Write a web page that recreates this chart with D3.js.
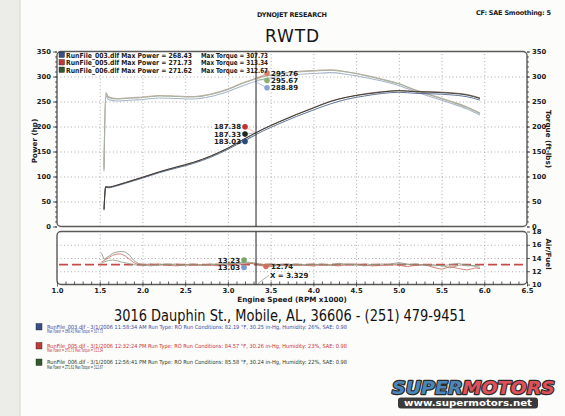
<!DOCTYPE html>
<html>
<head>
<meta charset="utf-8">
<script src="https://cdn.jsdelivr.net/npm/d3@7"></script>
<style>
html, body { margin: 0; padding: 0; background: #ecece9; }
svg { display: block; font-family: "DejaVu Sans", Verdana, sans-serif; }
</style>
</head>
<body>
<svg id="chart" width="565" height="416"></svg>
<script>
// run info
var runNames = ["RunFile_003.dlf", "RunFile_005.dlf", "RunFile_006.dlf"];
var maxPower = ["268.43", "271.73", "271.62"];
var maxTorque = ["307.73", "313.34", "312.67"];
var runDates = ["3/1/2006 11:58:34 AM", "3/1/2006 12:32:24 PM", "3/1/2006 12:56:41 PM"];
var runTemps = ["82.19", "84.57", "85.58"];
var runBaro = ["30.25", "30.26", "30.24"];
var runHumidity = ["26%", "23%", "22%"];
var runSAE = ["0.98", "0.98", "0.98"];

// power / torque curves
var dynoRpm = [1.55, 1.57, 1.6, 1.7, 1.8, 1.9, 2.0, 2.2, 2.4, 2.6, 2.8, 3.0, 3.2, 3.4,
  3.6, 3.8, 4.0, 4.2, 4.4, 4.6, 4.8, 5.0, 5.2, 5.4, 5.6, 5.8, 5.95];
var power003 = [32.5, 78.3, 77.4, 81.2, 86.3, 91.5, 96.7, 107.7, 117.0, 126.3, 138.6, 154.2, 172.4, 190.1,
  205.6, 219.9, 233.0, 245.2, 254.8, 261.0, 266.0, 268.4, 266.3, 265.3, 263.4, 259.5, 252.7];
var power005 = [35.4, 80.1, 79.2, 82.8, 88.1, 93.3, 98.6, 109.7, 119.3, 128.7, 141.3, 157.1, 176.1, 194.2,
  209.8, 224.3, 237.6, 250.6, 258.9, 265.3, 269.6, 271.7, 270.3, 269.4, 267.6, 263.9, 257.1];
var power006 = [33.9, 79.5, 78.6, 82.5, 87.7, 93.0, 98.2, 109.3, 118.8, 128.2, 140.7, 156.5, 175.5, 193.6,
  209.1, 223.6, 236.9, 250.0, 258.9, 264.5, 268.7, 271.6, 269.3, 268.4, 266.6, 262.8, 256.0];
var torque003 = [110, 262, 254, 251, 252, 253, 254, 257, 256, 255, 260, 270, 283, 294,
  300, 304, 306, 307.7, 304, 298, 291, 282, 269, 258, 247, 235, 223];
var torque005 = [120, 268, 260, 256, 257, 258, 259, 262, 261, 260, 265, 275, 289, 300,
  306, 310, 312, 313.3, 309, 303, 295, 285.4, 273, 262, 251, 239, 227];
var torque006 = [115, 266, 258, 255, 256, 257, 258, 261, 260, 259, 264, 274, 288, 299,
  305, 309, 311, 312.6, 309, 302, 294, 285.3, 272, 261, 250, 238, 226];

// air / fuel
var afrRpm = [1.52, 1.55, 1.60, 1.65, 1.70, 1.75, 1.80, 1.85, 1.90, 1.95,
  2.0, 2.1, 2.2, 2.3, 2.4, 2.5, 2.6, 2.7, 2.8, 2.9,
  3.0, 3.1, 3.2, 3.3, 3.4, 3.5, 3.6, 3.7, 3.8, 3.9,
  4.0, 4.1, 4.2, 4.3, 4.4, 4.5, 4.6, 4.7, 4.8, 4.9,
  5.0, 5.1, 5.2, 5.3, 5.4, 5.5, 5.6, 5.7, 5.8, 5.9, 5.95];
var afr003 = [14.8, 13.8, 14.2, 14.7, 14.9, 15.0, 14.9, 14.4, 13.6, 13.2,
  13.0, 13.1, 12.9, 13.0, 13.1, 12.9, 13.0, 12.9, 13.1, 13.0,
  13.2, 13.1, 13.3, 13.1, 13.0, 12.9, 13.0, 13.1, 12.9, 13.0,
  13.1, 12.9, 13.0, 13.2, 13.0, 12.9, 13.1, 13.0, 12.9, 13.1,
  13.3, 13.1, 12.9, 13.0, 12.8, 12.9, 12.5, 12.9, 13.0, 12.7, 12.6];
var afr005 = [13.4, 13.6, 14.0, 14.4, 14.6, 14.6, 14.3, 13.8, 13.3, 13.0,
  12.9, 13.0, 13.1, 12.9, 12.8, 13.0, 12.9, 13.0, 12.9, 12.8,
  13.0, 12.9, 13.1, 13.2, 12.8, 12.7, 12.9, 12.8, 13.0, 12.9,
  12.8, 13.0, 12.9, 12.8, 13.0, 13.1, 12.9, 12.8, 12.9, 13.0,
  12.9, 12.7, 12.9, 13.0, 12.6, 12.3, 12.7, 12.4, 12.2, 12.5, 12.4];
var afr006 = [13.2, 13.4, 13.6, 13.7, 13.6, 13.4, 13.3, 13.1, 13.0, 12.9,
  13.0, 12.8, 13.0, 13.1, 12.9, 13.0, 13.1, 12.9, 13.0, 13.1,
  13.1, 13.2, 13.4, 13.3, 13.0, 13.1, 12.9, 13.0, 13.1, 12.9,
  13.0, 13.1, 12.9, 13.0, 13.1, 13.0, 12.8, 13.0, 13.1, 13.0,
  13.1, 13.0, 13.1, 12.9, 13.0, 12.8, 13.0, 13.2, 12.8, 12.9, 12.9];
var afrTarget = 13.0;

// cursor readouts
var cursorRpm = 3.329;
var powerReadout = [187.38, 187.33, 183.03];
var torqueReadout = [295.76, 295.67, 288.89];
var afrReadout = [13.23, 13.03, 12.74];

// ticks
var powerTicks = [0, 50, 100, 150, 200, 250, 300, 350];
var torqueTicks = [0, 50, 100, 150, 200, 250, 300, 350];
var afrTicks = [10, 12, 14, 16, 18];
var rpmTicks = [1.0, 1.5, 2.0, 2.5, 3.0, 3.5, 4.0, 4.5, 5.0, 5.5, 6.0, 6.5];

var svg = d3.select("#chart");
var L = 57, R = 527;

var x = d3.scaleLinear().domain([1.0, 6.5]).range([L, R]);
var yP = d3.scaleLinear().domain([0, 350]).range([226.5, 51.5]);
var yT = d3.scaleLinear().domain([0, 350]).range([226.5, 51.5]);
var yA = d3.scaleLinear().domain([10, 18]).range([284.5, 231.5]);

// paper
svg.append("rect").attr("x", 20).attr("y", -12).attr("width", 562).attr("height", 440)
  .attr("rx", 12).attr("fill", "#fcfcfb").attr("stroke", "#d4d4d0");

// boxes
function box(y0, y1) {
  svg.append("rect").attr("x", L).attr("y", y0).attr("width", R - L).attr("height", y1 - y0)
    .attr("rx", 4).attr("fill", "#fff").attr("stroke", "none");
}
box(yP(350), yP(0));
box(yA(18), yA(10));

// grid
var gridStyle = function(g) {
  g.select(".domain").remove();
  g.selectAll("line").attr("stroke", "#8a8a8a").attr("stroke-width", 0.7).attr("stroke-dasharray", "1,2.5");
};
svg.append("g").attr("transform", "translate(" + L + ",0)")
  .call(d3.axisLeft(yP).tickValues(powerTicks.slice(1, -1)).tickSize(-(R - L)).tickFormat(""))
  .call(gridStyle);
svg.append("g").attr("transform", "translate(" + L + ",0)")
  .call(d3.axisLeft(yA).tickValues([12, 14, 16]).tickSize(-(R - L)).tickFormat(""))
  .call(gridStyle);
svg.append("g").attr("transform", "translate(0," + yP(0) + ")")
  .call(d3.axisBottom(x).tickValues(rpmTicks.slice(1, -1)).tickSize(-(yP(0) - yP(350))).tickFormat(""))
  .call(gridStyle);
svg.append("g").attr("transform", "translate(0," + yA(10) + ")")
  .call(d3.axisBottom(x).tickValues(rpmTicks.slice(1, -1)).tickSize(-(yA(10) - yA(18))).tickFormat(""))
  .call(gridStyle);

// curves
var runColors = {
  power: ["#52668c", "#8a5a54", "#2e382e"],
  torque: ["#a8b6c8", "#c8aea4", "#a6b29e"],
  afr: ["#8f8a7c", "#c8685a", "#8a9a7e"]
};
function series(rpm, vals) { return rpm.map(function(r, i) { return [r, vals[i]]; }); }

var lineP = d3.line().x(function(d) { return x(d[0]); }).y(function(d) { return yP(d[1]); }).curve(d3.curveMonotoneX);
var lineT = d3.line().x(function(d) { return x(d[0]); }).y(function(d) { return yT(d[1]); }).curve(d3.curveMonotoneX);
var lineA = d3.line().x(function(d) { return x(d[0]); }).y(function(d) { return yA(d[1]); });

[torque003, torque005, torque006].forEach(function(t, i) {
  svg.append("path").attr("d", lineT(series(dynoRpm, t))).attr("fill", "none")
    .attr("stroke", runColors.torque[i]).attr("stroke-width", 1.1);
});
[power003, power005, power006].forEach(function(p, i) {
  svg.append("path").attr("d", lineP(series(dynoRpm, p))).attr("fill", "none")
    .attr("stroke", runColors.power[i]).attr("stroke-width", 0.9);
});

// afr target
svg.append("line").attr("x1", L + 2).attr("x2", R - 2).attr("y1", yA(afrTarget)).attr("y2", yA(afrTarget))
  .attr("stroke", "#c84a48").attr("stroke-width", 1.8).attr("stroke-dasharray", "9,4");
[afr003, afr005, afr006].forEach(function(a, i) {
  svg.append("path").attr("d", lineA(series(afrRpm, a))).attr("fill", "none")
    .attr("stroke", runColors.afr[i]).attr("stroke-width", 0.8);
});

// box outlines
function outline(y0, y1) {
  svg.append("rect").attr("x", L).attr("y", y0).attr("width", R - L).attr("height", y1 - y0)
    .attr("rx", 4).attr("fill", "none").attr("stroke", "#5a5a5a").attr("stroke-width", 1.4);
}
outline(yP(350), yP(0));
outline(yA(18), yA(10));

// cursor
var cx = x(cursorRpm);
[[yP(350), yP(0)], [yA(18), yA(10)]].forEach(function(s) {
  svg.append("line").attr("x1", cx).attr("x2", cx).attr("y1", s[0]).attr("y2", s[1])
    .attr("stroke", "#333").attr("stroke-width", 1.1);
});

var fontBold = function(sel, size) {
  return sel.attr("font-size", size).attr("font-weight", "bold").attr("fill", "#1a1a1a");
};

// power readouts
var pColors = ["#c8302c", "#1e2a1e", "#2c4a7c"];
powerReadout.forEach(function(v, i) {
  var dx = cx - 11, dy = yP(powerReadout[0]) - 6 + i * 7.3;
  svg.append("line").attr("x1", cx).attr("y1", yP(v)).attr("x2", dx).attr("y2", dy)
    .attr("stroke", pColors[i]).attr("stroke-width", 0.5).attr("opacity", 0.6);
  svg.append("circle").attr("cx", dx).attr("cy", dy).attr("r", 2.8).attr("fill", pColors[i]);
  fontBold(svg.append("text"), 7).attr("x", dx - 4).attr("y", dy + 2.5)
    .attr("text-anchor", "end").text(v.toFixed(2));
});

// torque readouts
var tColors = ["#d8806c", "#8cb07c", "#8aa4d0"];
torqueReadout.forEach(function(v, i) {
  var dx = cx + 11, dy = yT(torqueReadout[0]) - 5.5 + i * 7.3;
  svg.append("line").attr("x1", cx).attr("y1", yT(v)).attr("x2", dx).attr("y2", dy)
    .attr("stroke", tColors[i]).attr("stroke-width", 0.7);
  svg.append("circle").attr("cx", dx).attr("cy", dy).attr("r", 2.8).attr("fill", tColors[i]);
  fontBold(svg.append("text"), 7).attr("x", dx + 4).attr("y", dy + 2.5).text(v.toFixed(2));
});

// afr readouts
var aColors = ["#78a868", "#7c98cc", "#d0705c"];
afrReadout.forEach(function(v, i) {
  var right = i === 2;
  var dx = right ? cx + 10 : cx - 12;
  var dy = yA(v) + (i === 0 ? -3 : (i === 1 ? 3 : 0));
  svg.append("circle").attr("cx", dx).attr("cy", dy).attr("r", 2.8).attr("fill", aColors[i]);
  fontBold(svg.append("text"), 7).attr("x", right ? dx + 5 : dx - 4).attr("y", dy + 2.5)
    .attr("text-anchor", right ? "start" : "end").text(v.toFixed(2));
});
svg.append("line").attr("x1", cx + 2).attr("y1", yA(10) - 1).attr("x2", cx + 13).attr("y2", yA(11.4))
  .attr("stroke", "#777").attr("stroke-width", 0.6);
fontBold(svg.append("text"), 7).attr("x", cx + 14).attr("y", yA(11.4) + 3)
  .text("X = " + cursorRpm.toFixed(3));

// axes
function axisStyle(g) {
  g.select(".domain").remove();
  g.selectAll("line").attr("stroke", "#333").attr("stroke-width", 0.8);
  g.selectAll("text").attr("font-size", 6.8).attr("font-weight", "bold").attr("fill", "#1a1a1a")
    .attr("font-family", "DejaVu Sans, Verdana, sans-serif");
}
svg.append("g").attr("transform", "translate(" + L + ",0)")
  .call(d3.axisLeft(yP).tickValues(d3.range(0, 351, 10)).tickSize(2).tickFormat(""))
  .call(axisStyle);
svg.append("g").attr("transform", "translate(" + L + ",0)")
  .call(d3.axisLeft(yP).tickValues(powerTicks).tickSize(4).tickPadding(2).tickFormat(d3.format("d")))
  .call(axisStyle);
svg.append("g").attr("transform", "translate(" + R + ",0)")
  .call(d3.axisRight(yT).tickValues(d3.range(0, 351, 10)).tickSize(2).tickFormat(""))
  .call(axisStyle);
svg.append("g").attr("transform", "translate(" + R + ",0)")
  .call(d3.axisRight(yT).tickValues(torqueTicks).tickSize(3).tickPadding(2).tickFormat(d3.format("d")))
  .call(axisStyle);
svg.append("g").attr("transform", "translate(" + R + ",0)")
  .call(d3.axisRight(yA).tickValues(afrTicks).tickSize(3).tickPadding(2).tickFormat(d3.format("d")))
  .call(axisStyle);
svg.append("g").attr("transform", "translate(0," + yA(10) + ")")
  .call(d3.axisBottom(x).tickValues(d3.range(1.0, 6.51, 0.1)).tickSize(-3).tickFormat(""))
  .call(axisStyle);
svg.append("g").attr("transform", "translate(0," + yA(10) + ")")
  .call(d3.axisBottom(x).tickValues(rpmTicks).tickSize(2).tickPadding(2).tickFormat(d3.format(".1f")))
  .call(axisStyle);

// axis titles
fontBold(svg.append("text"), 7.2).attr("text-anchor", "middle")
  .attr("x", 292).attr("y", 302).text("Engine Speed (RPM x1000)");
fontBold(svg.append("text"), 7.2).attr("text-anchor", "middle")
  .attr("transform", "translate(37,141) rotate(-90)").text("Power (hp)");
fontBold(svg.append("text"), 7.2).attr("text-anchor", "middle")
  .attr("transform", "translate(546,139) rotate(90)").text("Torque (ft-lbs)");
fontBold(svg.append("text"), 7.2).attr("text-anchor", "middle")
  .attr("transform", "translate(546,254) rotate(90)").text("Air/Fuel");

// headers
fontBold(svg.append("text"), 6.5).attr("text-anchor", "middle").attr("x", 292).attr("y", 17)
  .attr("textLength", 70).text("DYNOJET RESEARCH");
fontBold(svg.append("text"), 6.5).attr("x", 476).attr("y", 15)
  .attr("textLength", 75).text("CF: SAE  Smoothing: 5");
svg.append("text").attr("x", 292).attr("y", 42).attr("text-anchor", "middle")
  .attr("font-size", 17).attr("fill", "#151515").attr("textLength", 54).text("RWTD");

// legend
var legendColors = ["#3a4f8a", "#c03a3a", "#2e5a2e"];
runNames.forEach(function(n, i) {
  var ly = 55 + i * 7.5;
  svg.append("rect").attr("x", 59).attr("y", ly - 3).attr("width", 5.5).attr("height", 5.5)
    .attr("fill", legendColors[i]).attr("stroke", "#222").attr("stroke-width", 0.4);
  fontBold(svg.append("text"), 7).attr("x", 66).attr("y", ly + 2.5)
    .attr("textLength", 126).attr("lengthAdjust", "spacingAndGlyphs")
    .text(n + " Max Power = " + maxPower[i]);
  fontBold(svg.append("text"), 7).attr("x", 201).attr("y", ly + 2.5)
    .attr("textLength", 67).attr("lengthAdjust", "spacingAndGlyphs")
    .text("Max Torque = " + maxTorque[i]);
});

// address
svg.append("text").attr("x", 290).attr("y", 321).attr("text-anchor", "middle")
  .attr("font-size", 16).attr("fill", "#111").attr("textLength", 352).attr("lengthAdjust", "spacingAndGlyphs")
  .text("3016 Dauphin St., Mobile, AL, 36606 - (251) 479-9451");

// run details
var detailColors = ["#3a4aa0", "#c83232", "#253a25"];
runNames.forEach(function(n, i) {
  var by = [328.5, 347.5, 364][i];
  svg.append("rect").attr("x", 36).attr("y", by - 5).attr("width", 6).attr("height", 6.5)
    .attr("fill", legendColors[i]).attr("stroke", "#222").attr("stroke-width", 0.4);
  svg.append("text").attr("x", 47).attr("y", by).attr("font-size", 5.6).attr("fill", detailColors[i])
    .attr("textLength", 300).attr("lengthAdjust", "spacingAndGlyphs")
    .text(n + " - " + runDates[i] + "  Run Type: RO  Run Conditions: " + runTemps[i] + " \u00b0F, " +
      runBaro[i] + " in-Hg,  Humidity: " + runHumidity[i] + ", SAE: " + runSAE[i]);
  svg.append("text").attr("x", 47).attr("y", by + 4.8).attr("font-size", 5.6).attr("fill", detailColors[i])
    .attr("textLength", 56).attr("lengthAdjust", "spacingAndGlyphs")
    .text("Max Power = " + maxPower[i] + "  Max Torque = " + maxTorque[i]);
});

// logo
var logo = svg.append("text").attr("x", 392).attr("y", 394).attr("font-size", 18.5)
  .attr("font-weight", "bold").attr("font-style", "italic").attr("stroke", "#2a2a2a")
  .attr("stroke-width", 2.4).attr("paint-order", "stroke").attr("stroke-linejoin", "round")
  .attr("textLength", 163).attr("lengthAdjust", "spacingAndGlyphs");
logo.append("tspan").attr("fill", "#4a86b8").text("SUPER");
logo.append("tspan").attr("fill", "#e0505a").text("MOTORS");
svg.append("rect").attr("x", 398).attr("y", 397.5).attr("width", 140).attr("height", 11)
  .attr("rx", 3).attr("fill", "#3a3a3a");
svg.append("text").attr("x", 468).attr("y", 406).attr("text-anchor", "middle").attr("font-size", 8.5)
  .attr("font-weight", "bold").attr("fill", "#fff").attr("textLength", 128).attr("lengthAdjust", "spacingAndGlyphs")
  .text("www.supermotors.net");
</script>
</body>
</html>
